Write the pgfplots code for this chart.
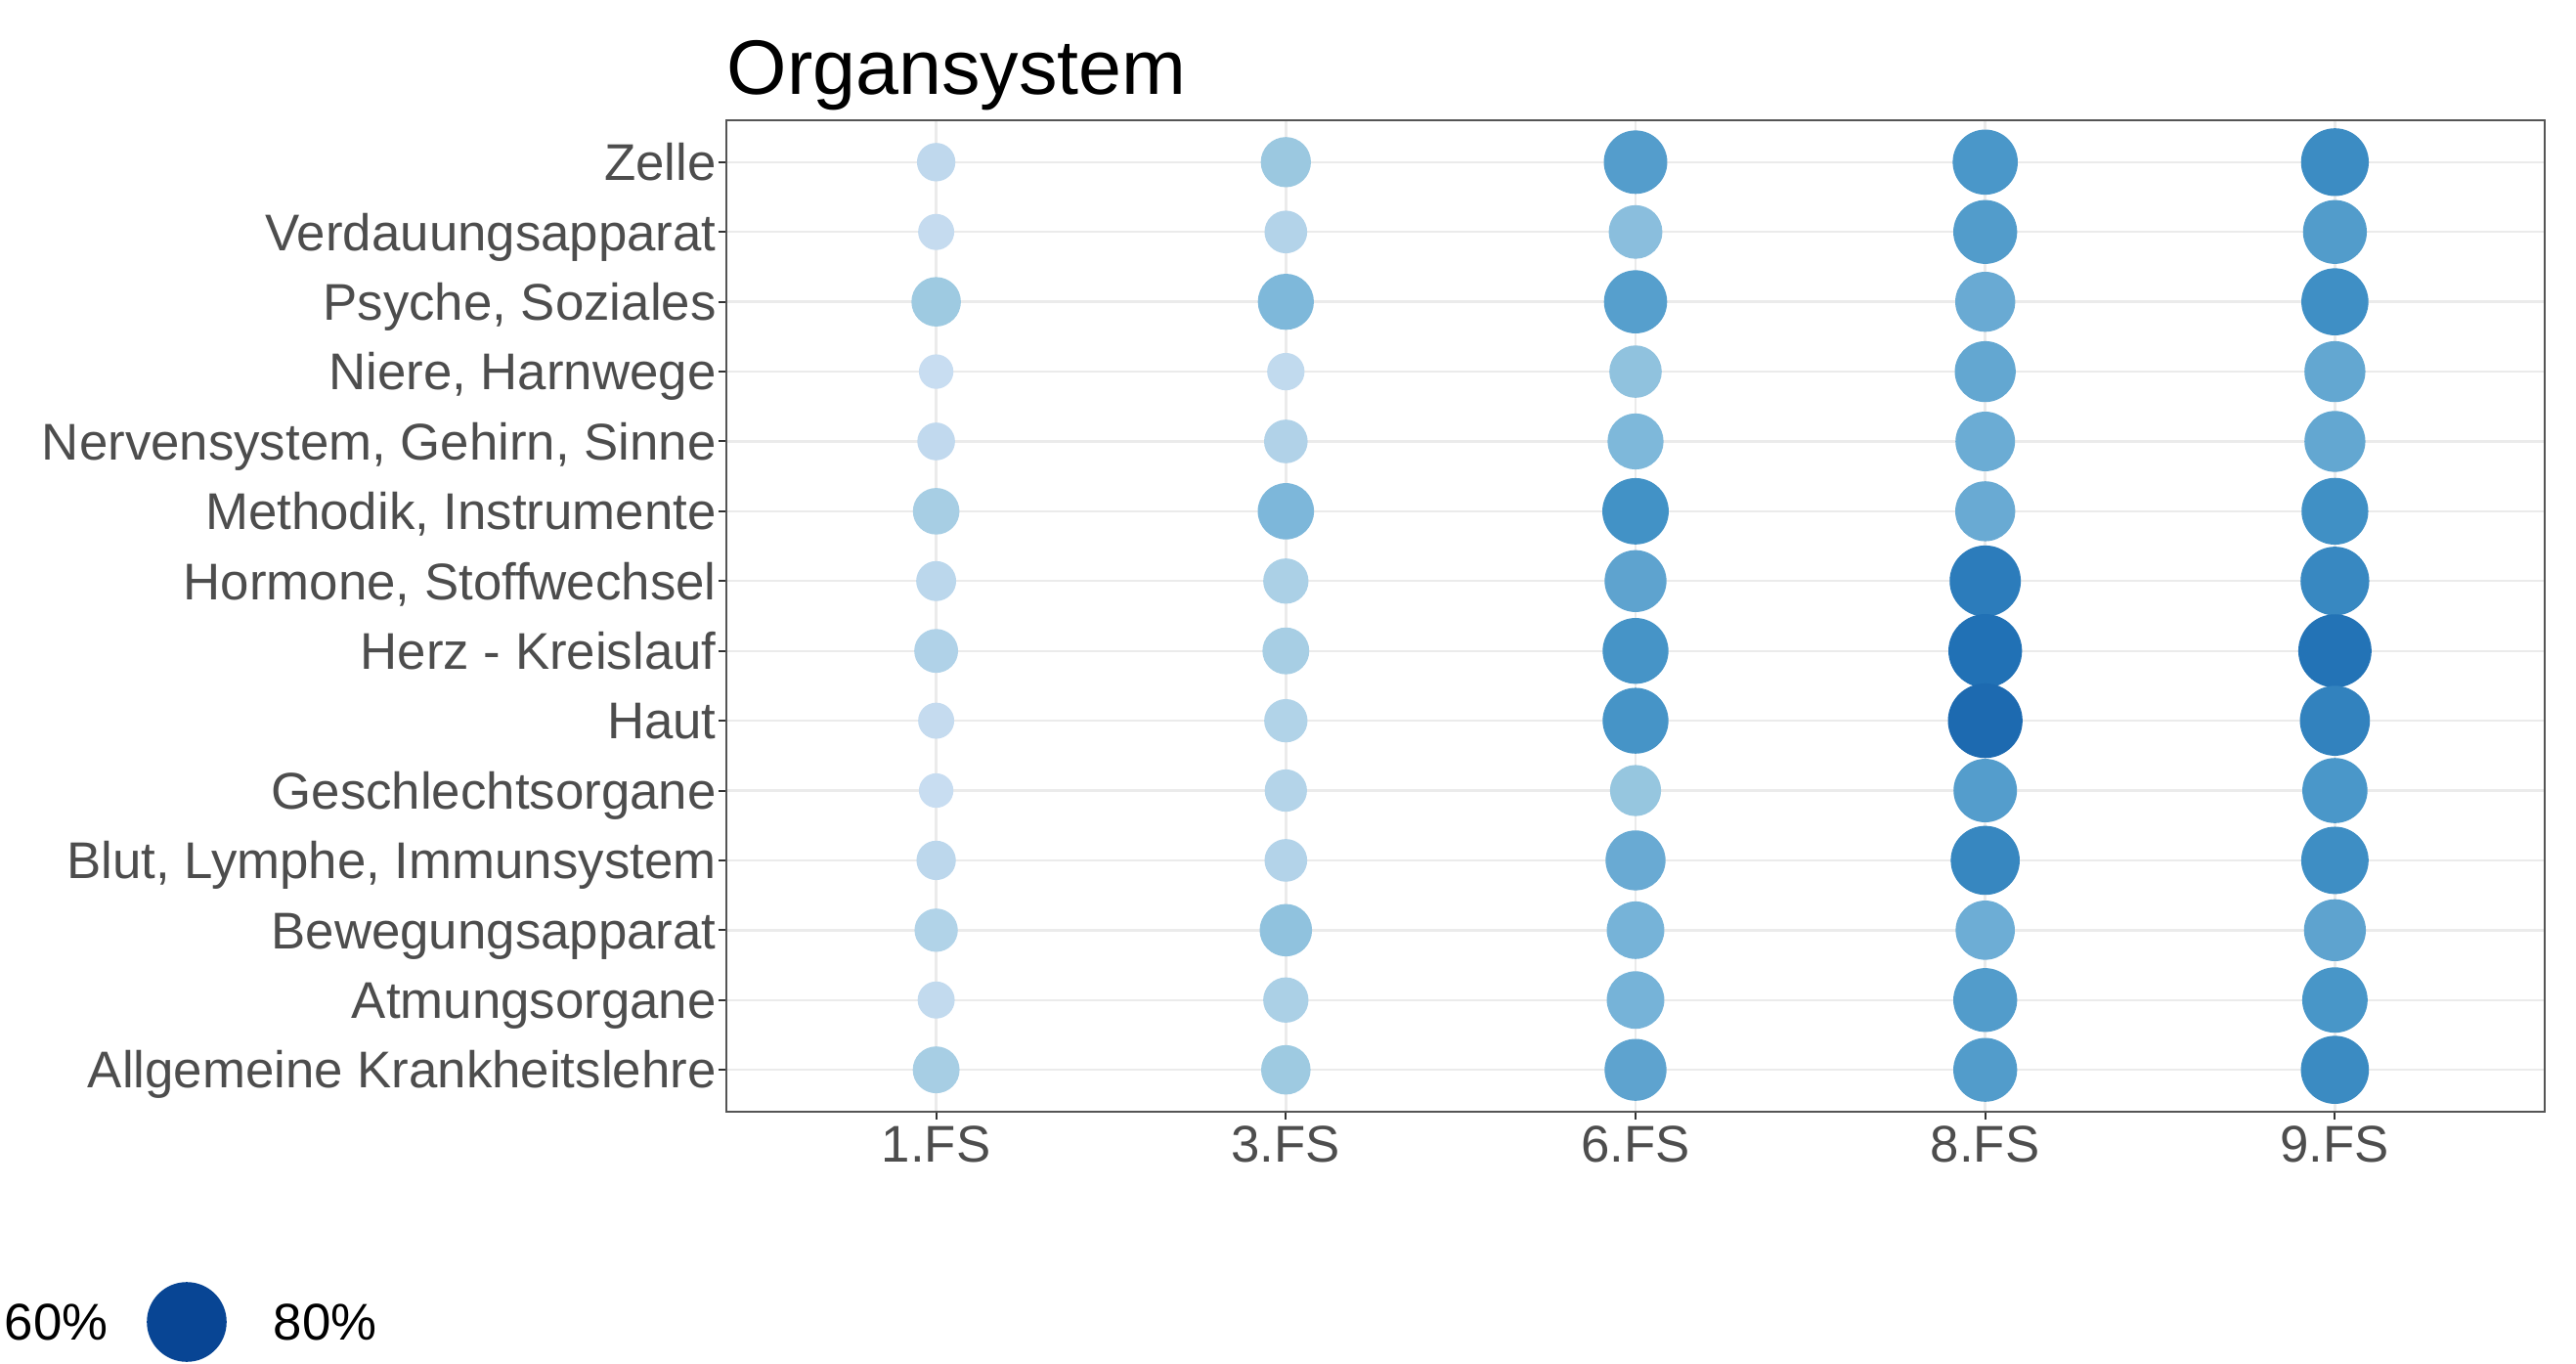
\documentclass[border=0pt]{standalone}
\usepackage{fontspec}
\setmainfont{Liberation Sans}
\usepackage{pgfplots}
\usepackage{pgfplotstable}
\pgfplotsset{compat=1.18}
\definecolor{gridcol}{HTML}{EBEBEB}
\definecolor{tickcol}{HTML}{333333}
\definecolor{labcol}{HTML}{4D4D4D}
\definecolor{framecol}{HTML}{555555}

% columns: x (semester index) y (row index) v (percent)
\pgfplotstableread{
x y v
1 14 17.8
1 13 15.6
1 12 30.0
1 11 14.2
1 10 17.1
1 9 26.5
1 8 19.3
1 7 23.4
1 6 15.6
1 5 14.2
1 4 18.7
1 3 22.8
1 2 16.5
1 1 26.8
}\fsone
\pgfplotstableread{
x y v
2 14 30.9
2 13 22.1
2 12 38.8
2 11 16.8
2 10 23.1
2 9 39.2
2 8 25.0
2 7 26.8
2 6 22.8
2 5 21.7
2 4 22.1
2 3 33.8
2 2 25.0
2 1 30.0
}\fsthree
\pgfplotstableread{
x y v
3 14 50.1
3 13 35.5
3 12 49.6
3 11 33.8
3 10 38.8
3 9 54.9
3 8 47.6
3 7 54.0
3 6 54.0
3 5 32.1
3 4 44.6
3 3 41.0
3 2 41.0
3 1 47.6
}\fssix
\pgfplotstableread{
x y v
4 14 52.8
4 13 50.7
4 12 44.6
4 11 46.1
4 10 44.0
4 9 44.6
4 8 63.5
4 7 67.9
4 6 69.8
4 5 50.1
4 4 59.5
4 3 43.5
4 2 50.7
4 1 50.7
}\fseight
\pgfplotstableread{
x y v
5 14 57.3
5 13 50.7
5 12 56.1
5 11 46.1
5 10 46.1
5 9 55.6
5 8 59.0
5 7 67.2
5 6 61.3
5 5 52.8
5 4 56.6
5 3 47.6
5 2 53.3
5 1 57.8
}\fsnine
\pgfplotstableread{
x y v
-1.898 -2.6108 60
-1.1432 -2.6108 80
}\legtab

\pgfplotsset{
  bubble/.style={
    scatter, only marks, mark=*,
    scatter/use mapped color={draw=mapped color, fill=mapped color},
    point meta=\thisrow{v},
    visualization depends on={1.118*sqrt(\thisrow{v}) \as \msize},
    scatter/@pre marker code/.append style={/tikz/mark size=\msize pt},
  },
}

\begin{document}
\begin{tikzpicture}
\useasboundingbox (-185.75pt,-64.25pt) rectangle (473pt,284.25pt);
\clip (-185.75pt,-64.25pt) rectangle (473pt,284.25pt);
\begin{axis}[
  scale only axis,
  width=465pt, height=253.5pt,
  xmin=0.4, xmax=5.6, ymin=0.4, ymax=14.6,
  clip=false,
  xtick={1,2,3,4,5},
  xticklabels={1.FS,3.FS,6.FS,8.FS,9.FS},
  ytick={1,...,14},
  yticklabels={Allgemeine Krankheitslehre,Atmungsorgane,Bewegungsapparat,{Blut, Lymphe, Immunsystem},Geschlechtsorgane,Haut,Herz - Kreislauf,{Hormone, Stoffwechsel},{Methodik, Instrumente},{Nervensystem, Gehirn, Sinne},{Niere, Harnwege},{Psyche, Soziales},Verdauungsapparat,Zelle},
  grid=major,
  grid style={color=gridcol, line width=0.6pt},
  axis line style={color=framecol, line width=0.5pt},
  tick align=outside,
  major tick length=2pt,
  tick style={color=tickcol, line width=0.5pt},
  xtick pos=bottom, ytick pos=left,
  ticklabel style={font=\fontsize{13.2}{15}\selectfont, text=labcol},
  yticklabel style={inner sep=0pt, anchor=base east, xshift=-0.4pt, yshift=-4.7pt},
  xticklabel style={inner sep=0pt, yshift=-1.35pt},
  title={Organsystem},
  every axis title shift=0pt,
  title style={at={(0,1)}, anchor=base west, inner sep=0pt, yshift=6.5pt, font=\fontsize{19.75}{24}\selectfont, text=black},
  colormap={ggblues}{rgb255(0pt)=(247,251,255) rgb255(14pt)=(201,221,241) rgb255(30pt)=(158,202,225) rgb255(40pt)=(122,181,217) rgb255(55pt)=(66,146,198) rgb255(68pt)=(33,113,181) rgb255(80pt)=(8,69,148)},
  point meta min=0, point meta max=80,
]
\addplot[bubble] table {\fsone};
\addplot[bubble] table {\fsthree};
\addplot[bubble] table {\fssix};
\addplot[bubble] table {\fseight};
\addplot[bubble] table {\fsnine};
% legend
\addplot[bubble] table {\legtab};
\addplot[draw=none, mark=none, nodes near coords={\pgfplotspointmeta}, point meta=explicit symbolic,
  nodes near coords style={anchor=west, inner sep=0pt, font=\fontsize{13.2}{15}\selectfont, text=black}]
  coordinates {(-1.666,-2.6108) [60\%] (-0.8972,-2.6108) [80\%]};
\end{axis}
\end{tikzpicture}
\end{document}
